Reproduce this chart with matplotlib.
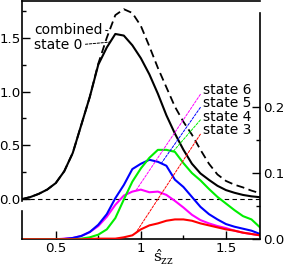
import numpy as np
import matplotlib
matplotlib.use("Agg")
import matplotlib.pyplot as plt

plt.rcParams['font.family'] = ['DejaVu Sans']
plt.rcParams['font.size'] = 10
plt.rcParams['mathtext.fontset'] = 'dejavuserif'

# ---- data ----
s_zz = [0.30, 0.35, 0.40, 0.45, 0.50, 0.55, 0.60, 0.65, 0.70, 0.75,
        0.80, 0.85, 0.90, 0.95, 1.00, 1.05, 1.10, 1.15, 1.20, 1.25,
        1.30, 1.35, 1.40, 1.45, 1.50, 1.55, 1.60, 1.65, 1.70]

state0 = [0.00, 0.02, 0.05, 0.09, 0.15, 0.26, 0.43, 0.69, 0.95, 1.25,
          1.41, 1.535, 1.52, 1.43, 1.31, 1.16, 0.98, 0.78, 0.61, 0.46,
          0.33, 0.24, 0.18, 0.125, 0.085, 0.06, 0.04, 0.027, 0.019]

combined = [0.00, 0.02, 0.05, 0.09, 0.15, 0.26, 0.43, 0.69, 0.95, 1.26,
            1.50, 1.71, 1.765, 1.73, 1.61, 1.42, 1.22, 1.04, 0.86, 0.72,
            0.60, 0.46, 0.33, 0.23, 0.17, 0.135, 0.11, 0.08, 0.056]

state3 = [0.0, 0.0, 0.0, 0.0, 0.0, 0.0, 0.0, 0.0, 0.0005, 0.001,
          0.001, 0.001, 0.003, 0.006, 0.015, 0.021, 0.024, 0.028, 0.030, 0.030,
          0.028, 0.024, 0.021, 0.018, 0.015, 0.013, 0.010, 0.008, 0.006]

state4 = [0.0, 0.0, 0.0, 0.0, 0.0, 0.0, 0.0, 0.001, 0.003, 0.007,
          0.015, 0.032, 0.060, 0.087, 0.107, 0.123, 0.135, 0.135, 0.132, 0.115,
          0.100, 0.089, 0.076, 0.064, 0.054, 0.044, 0.035, 0.030, 0.018]

state5 = [0.0, 0.0, 0.0, 0.0, 0.0, 0.0005, 0.002, 0.005, 0.011, 0.022,
          0.038, 0.062, 0.082, 0.106, 0.114, 0.120, 0.117, 0.111, 0.090, 0.079,
          0.064, 0.049, 0.038, 0.030, 0.023, 0.019, 0.016, 0.013, 0.008]

state6 = [0.0, 0.0, 0.0, 0.0, 0.0, 0.001, 0.002, 0.005, 0.011, 0.020,
          0.034, 0.052, 0.066, 0.072, 0.075, 0.071, 0.072, 0.067, 0.058, 0.048,
          0.037, 0.029, 0.024, 0.020, 0.017, 0.013, 0.010, 0.008, 0.006]

colored = [("state 6", state6, "#ff00ff", 0.97, 0.225),
           ("state 5", state5, "#0000ff", 1.12, 0.205),
           ("state 4", state4, "#00ee00", 1.19, 0.185),
           ("state 3", state3, "#ff0000", 0.97, 0.165)]

xlim = (0.3, 1.7)
ylim_left = (-0.372, 1.843)
ylim_right = (0.0, 0.36)

fig = plt.figure(figsize=(2.86, 2.67), dpi=100)
ax1 = fig.add_axes([21.7/286, 1 - 239.3/267, (260 - 21.7)/286, (239.3 - 0.8)/267])
ax2 = ax1.twinx()

x = np.array(s_zz)

# left (black) axes
ax1.axhline(0, color='black', lw=0.8, ls=(0, (4, 3)), zorder=1)
ax1.plot(x, state0, color='black', lw=1.5, zorder=3)
ax1.plot(x, combined, color='black', lw=1.3, ls=(0, (4.5, 2.5)), zorder=3)
ax1.set_xlim(*xlim)
ax1.set_ylim(*ylim_left)

ax1.spines['right'].set_visible(False)
for sp in ax1.spines.values():
    sp.set_linewidth(1.2)
ax1.spines['left'].set_bounds(-0.015, ylim_left[1])

ax1.set_yticks([0.0, 0.5, 1.0, 1.5])
ax1.set_yticks([0.25, 0.75, 1.25, 1.75], minor=True)
ax1.set_yticklabels(["0.0", "0.5", "1.0", "1.5"])
ax1.set_xticks([0.5, 1.0, 1.5])
ax1.set_xticks([0.75, 1.25], minor=True)
ax1.set_xticklabels(["0.5", "1", "1.5"])
ax1.tick_params(axis='both', which='both', direction='in', top=False, right=False,
                labelsize=9.6)
ax1.tick_params(axis='both', which='major', length=5.5, width=1.0)
ax1.tick_params(axis='both', which='minor', length=3, width=1.0)
ax1.tick_params(axis='y', pad=0.6)
ax1.tick_params(axis='x', pad=2)

# right (coloured) axes
for name, vals, col, xt, yt in colored:
    ax2.plot(x, vals, color=col, lw=1.5, zorder=2)
ax2.set_ylim(*ylim_right)
ax2.spines['top'].set_visible(False)
ax2.spines['bottom'].set_visible(False)
for sp in ax2.spines.values():
    sp.set_linewidth(1.2)
ax2.spines['right'].set_bounds(0, 0.342)
ax2.spines['left'].set_bounds(0, 0.042)
ax2.set_yticks([0.0, 0.1, 0.2])
ax2.set_yticks([0.05, 0.15], minor=True)
ax2.set_yticklabels(["0.0", "0.1", "0.2"])
ax2.tick_params(axis='y', which='both', direction='in', left=False, right=True, pad=2,
                labelsize=9.6)
ax2.tick_params(axis='y', which='major', length=5.5, width=1.0)
ax2.tick_params(axis='y', which='minor', length=3, width=1.0)

# annotations
for name, vals, col, xt, yt in colored:
    ax2.annotate(name, xy=(xt, np.interp(xt, x, vals)), xytext=(1.366, yt),
                 ha='left', va='center', fontsize=10,
                 arrowprops=dict(arrowstyle='-', color=col, lw=0.7,
                                 linestyle=(0, (2.5, 1.5)), relpos=(0, 0.5),
                                 shrinkA=0, shrinkB=0))

ax2.annotate("combined", xy=(0.815, np.interp(0.815, x, combined)),
             xytext=(0.374, 1.573), xycoords=ax1.transData, textcoords=ax1.transData,
             ha='left', va='center', fontsize=10,
             arrowprops=dict(arrowstyle='-', color='black', lw=0.7,
                             linestyle=(0, (2.5, 1.5)), relpos=(1, 0.5),
                             shrinkA=0, shrinkB=0))
ax2.annotate("state 0", xy=(0.82, np.interp(0.82, x, state0)),
             xytext=(0.374, 1.437), xycoords=ax1.transData, textcoords=ax1.transData,
             ha='left', va='center', fontsize=10,
             arrowprops=dict(arrowstyle='-', color='black', lw=0.7,
                             linestyle=(0, (2.5, 1.5)), relpos=(1, 0.5),
                             shrinkA=0, shrinkB=0))

ax1.text(0.595, -0.036, r'$\hat{\mathrm{s}}_{\mathrm{zz}}$', transform=ax1.transAxes,
         ha='center', va='top', fontsize=11)

fig.savefig("out.png", dpi=100)
